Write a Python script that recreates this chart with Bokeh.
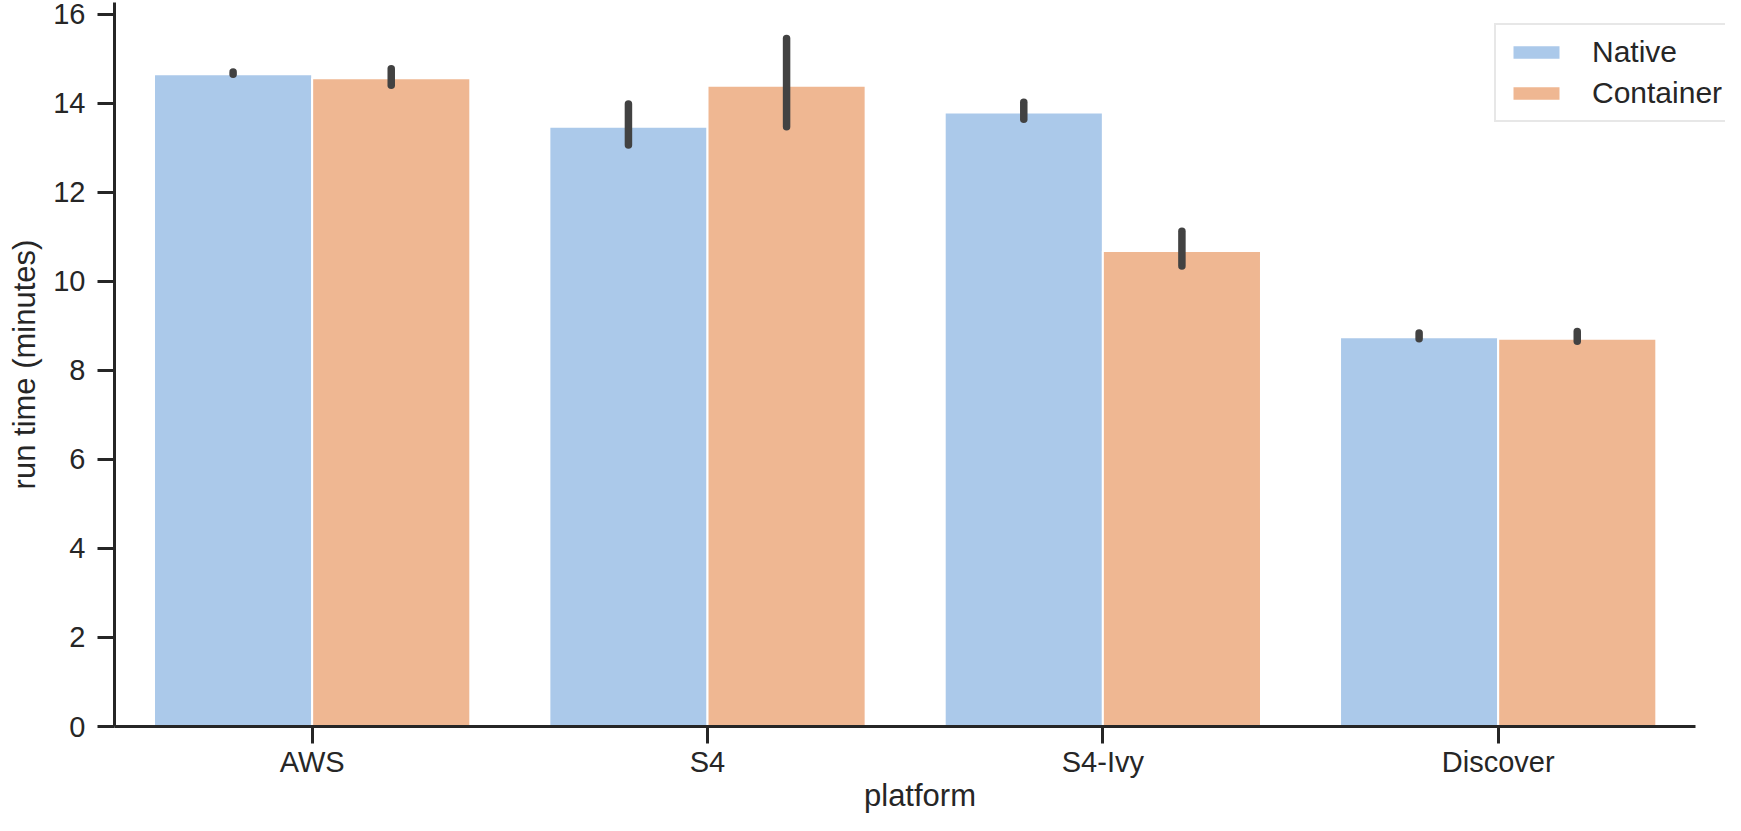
from bokeh.plotting import figure
from bokeh.models import ColumnDataSource, Range1d, Legend, LegendItem, FixedTicker
from bokeh.transform import dodge
from bokeh.embed import file_html
from bokeh.resources import INLINE

platforms = ["AWS", "S4", "S4-Ivy", "Discover"]
native = [14.65, 13.47, 13.79, 8.74]
native_lo = [14.65, 13.06, 13.64, 8.71]
native_hi = [14.70, 13.98, 14.02, 8.84]
container = [14.56, 14.39, 10.68, 8.71]
container_lo = [14.40, 13.47, 10.34, 8.65]
container_hi = [14.77, 15.45, 11.12, 8.87]
y_ticks = [0, 2, 4, 6, 8, 10, 12, 14, 16]

BLUE = "#abc9ea"
ORANGE = "#efb792"
DARK = "#262626"
FONT = "Liberation Sans"

pos = list(range(len(platforms)))

src = ColumnDataSource(dict(
    pos=pos, platform=platforms,
    native=native, native_lo=native_lo, native_hi=native_hi,
    container=container, container_lo=container_lo, container_hi=container_hi,
))

p = figure(
    x_range=Range1d(-0.5, 3.575),
    y_range=Range1d(0, 16.26),
    width=1725, height=815,
    min_border_left=114, min_border_right=0, min_border_top=2, min_border_bottom=89,
    output_backend="svg", toolbar_location=None,
)
p.outline_line_color = None
p.grid.grid_line_color = None
p.background_fill_color = "white"

xn = dodge("pos", -0.2)
xc = dodge("pos", 0.2)

r1 = p.vbar(x=xn, top="native", width=0.4, source=src, fill_color=BLUE,
            line_color="white", line_width=2)
r2 = p.vbar(x=xc, top="container", width=0.4, source=src, fill_color=ORANGE,
            line_color="white", line_width=2)

p.segment(x0=xn, x1=xn, y0="native_lo", y1="native_hi", source=src,
          line_color="#424242", line_width=7.5, line_cap="round")
p.segment(x0=xc, x1=xc, y0="container_lo", y1="container_hi", source=src,
          line_color="#424242", line_width=7.5, line_cap="round")

for ax in (p.xaxis[0], p.yaxis[0]):
    ax.axis_line_color = DARK
    ax.axis_line_width = 3
    ax.major_tick_line_color = DARK
    ax.major_tick_line_width = 3
    ax.major_tick_out = 17
    ax.major_tick_in = 0
    ax.minor_tick_line_color = None
    ax.major_label_text_font = FONT
    ax.major_label_text_font_size = "29px"
    ax.major_label_text_color = DARK
    ax.axis_label_text_font = FONT
    ax.axis_label_text_font_size = "31px"
    ax.axis_label_text_font_style = "normal"
    ax.axis_label_text_color = DARK

p.xaxis.ticker = FixedTicker(ticks=pos)
p.xaxis.major_label_overrides = {i: name for i, name in zip(pos, platforms)}
p.xaxis.bounds = (-0.5, 3.5)
p.xaxis.major_label_standoff = 2
p.xaxis.axis_label = "platform"
p.xaxis.axis_label_standoff = -3

p.yaxis.ticker = FixedTicker(ticks=y_ticks)
p.yaxis.major_label_standoff = 12
p.yaxis.axis_label = "run time (minutes)"
p.yaxis.axis_label_standoff = 8

legend = Legend(
    items=[LegendItem(label="Native", renderers=[r1]),
           LegendItem(label="Container", renderers=[r2])],
    location=(1380, 604),
    label_text_font=FONT, label_text_font_size="30px", label_text_color=DARK,
    glyph_width=60, glyph_height=18, label_standoff=26,
    padding=10, spacing=7, margin=0,
    border_line_color="#d0d0d0", border_line_width=2.5,
    background_fill_color="white", background_fill_alpha=0.8,
)
p.add_layout(legend, "center")

open("out.html", "w").write(file_html(p, INLINE))
